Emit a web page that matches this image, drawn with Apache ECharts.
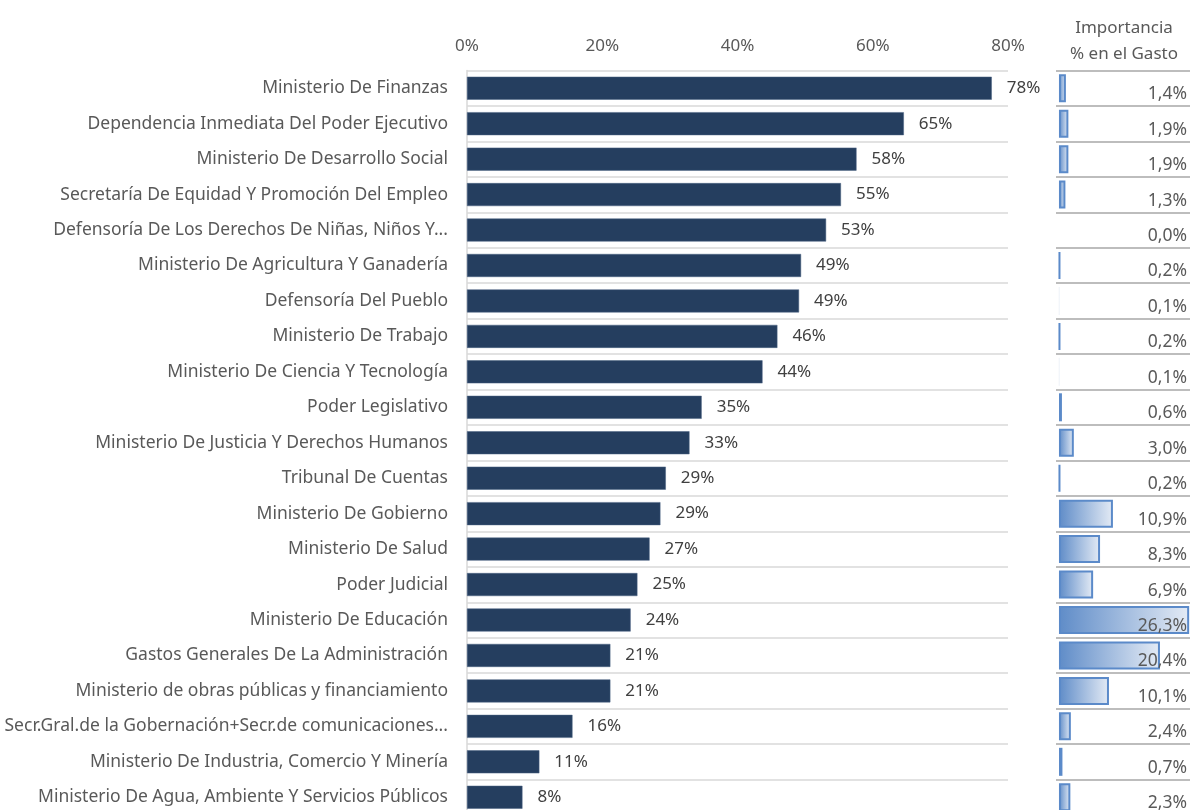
<!DOCTYPE html>
<html>
<head>
<meta charset="utf-8">
<title>Ejecución por jurisdicción</title>
<script src="https://cdn.jsdelivr.net/npm/echarts@6/dist/echarts.min.js"></script>
<style>
    html, body { margin: 0; padding: 0; background: #fff; }
    #chart { width: 1190px; height: 810px; }
</style>
</head>
<body>
<div id="chart"></div>
<script>
// jurisdicciones, de arriba hacia abajo
var categories = [
    'Ministerio De Finanzas',
    'Dependencia Inmediata Del Poder Ejecutivo',
    'Ministerio De Desarrollo Social',
    'Secretaría De Equidad Y Promoción Del Empleo',
    'Defensoría De Los Derechos De Niñas, Niños Y...',
    'Ministerio De Agricultura Y Ganadería',
    'Defensoría Del Pueblo',
    'Ministerio De Trabajo',
    'Ministerio De Ciencia Y Tecnología',
    'Poder Legislativo',
    'Ministerio De Justicia Y Derechos Humanos',
    'Tribunal De Cuentas',
    'Ministerio De Gobierno',
    'Ministerio De Salud',
    'Poder Judicial',
    'Ministerio De Educación',
    'Gastos Generales De La Administración',
    'Ministerio de obras públicas y financiamiento',
    'Secr.Gral.de la Gobernación+Secr.de comunicaciones...',
    'Ministerio De Industria, Comercio Y Minería',
    'Ministerio De Agua, Ambiente Y Servicios Públicos'
];
// % de ejecución (barras azul oscuro)
var execution = [77.6, 64.6, 57.6, 55.3, 53.1, 49.4, 49.1, 45.9, 43.7, 34.7, 32.9,
    29.4, 28.6, 27.0, 25.2, 24.2, 21.2, 21.2, 15.6, 10.7, 8.2];
// importancia % en el gasto
var shares = [1.4, 1.9, 1.9, 1.3, 0.0, 0.2, 0.1, 0.2, 0.1, 0.6, 3.0,
    0.2, 10.9, 8.3, 6.9, 26.3, 20.4, 10.1, 2.4, 0.7, 2.3];
var xTicks = [0, 20, 40, 60, 80];

var FONT = 'Noto Sans';
var GRAY = '#595959';

window.onload = function () {
    initChart();
}

// 1,4% con coma decimal
function fmtShare(v) {
    return v.toFixed(1).replace('.', ',') + '%';
}

function initChart() {
    var chart = echarts.init(document.getElementById('chart'));
    var top = 70.5;
    var height = 744.5;

    chart.setOption({
        animation: false,
        textStyle: { fontFamily: FONT },
        graphic: [{
            type: 'text',
            x: 1124,
            y: 15,
            style: {
                text: 'Importancia\n% en el Gasto',
                align: 'center',
                fill: GRAY,
                font: '17px "Noto Sans"',
                lineHeight: 26
            }
        }],
        grid: [
            { left: 467, top: top, width: 541, height: height, outerBoundsMode: 'none',
              show: true, borderWidth: 0 },
            { left: 1056, top: top, width: 134, height: height, outerBoundsMode: 'none' }
        ],
        xAxis: [{
            gridIndex: 0,
            type: 'value',
            position: 'top',
            min: xTicks[0],
            max: xTicks[xTicks.length - 1],
            interval: xTicks[1] - xTicks[0],
            axisLine: { show: false },
            axisTick: { show: false },
            splitLine: { show: false },
            axisLabel: {
                formatter: '{value}%',
                color: GRAY,
                fontSize: 17,
                fontFamily: FONT,
                margin: 16
            }
        }, {
            gridIndex: 1,
            type: 'value',
            min: -0.6,
            max: 26.47,
            show: false
        }],
        yAxis: [{
            gridIndex: 0,
            type: 'category',
            inverse: true,
            data: categories,
            axisTick: { show: false },
            axisLine: { show: true, lineStyle: { color: '#d9d9d9', width: 1.5 } },
            splitLine: { show: true, lineStyle: { color: '#d9d9d9', width: 1.5 } },
            axisLabel: {
                color: GRAY,
                fontSize: 17.5,
                fontFamily: FONT,
                margin: 19
            }
        }, {
            gridIndex: 1,
            type: 'category',
            inverse: true,
            data: categories,
            axisTick: { show: false },
            axisLine: { show: false },
            axisLabel: { show: false },
            splitLine: { show: true, lineStyle: { color: '#bdbdbd', width: 2 } }
        }, {
            // etiquetas de la importancia, alineadas a la derecha y sobre las barras
            gridIndex: 1,
            type: 'category',
            position: 'right',
            inverse: true,
            z: 10,
            data: categories,
            axisTick: { show: false },
            axisLine: { show: false },
            splitLine: { show: false },
            axisLabel: {
                inside: true,
                margin: 3,
                color: GRAY,
                fontSize: 17.5,
                fontFamily: FONT,
                verticalAlign: 'top',
                lineHeight: 12,
                formatter: function (value, index) {
                    return fmtShare(shares[index]);
                }
            }
        }],
        series: [{
            type: 'bar',
            xAxisIndex: 0,
            yAxisIndex: 0,
            data: execution,
            barWidth: 23,
            itemStyle: { color: '#253e5f', borderColor: '#4a6282', borderWidth: 0.5 },
            label: {
                show: true,
                position: 'right',
                distance: 15,
                color: '#404040',
                fontSize: 17,
                fontFamily: FONT,
                formatter: function (p) {
                    return Math.round(p.value) + '%';
                }
            }
        }, {
            // barras de datos tipo Excel
            type: 'bar',
            xAxisIndex: 1,
            yAxisIndex: 1,
            barWidth: 28,
            data: shares.map(function (v) {
                return v < 0.15 ? { value: v, itemStyle: { borderWidth: 0 } } : v;
            }),
            itemStyle: {
                color: new echarts.graphic.LinearGradient(0, 0, 1, 0, [
                    { offset: 0, color: '#5f8cc8' },
                    { offset: 1, color: '#e4ebf5' }
                ]),
                borderColor: '#5b8ac9',
                borderWidth: 2
            }
        }]
    });
}
</script>
</body>
</html>
